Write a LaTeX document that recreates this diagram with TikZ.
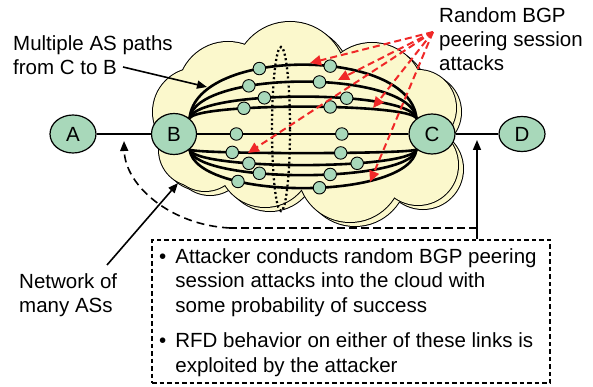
\documentclass[tikz,border=0pt]{standalone}
\usepackage{fontspec}
\setmainfont{Liberation Sans}
\usetikzlibrary{arrows.meta,shapes.geometric}
\definecolor{cloudy}{HTML}{FBF8CC}
\definecolor{asgreen}{HTML}{A8D8BA}
\definecolor{atkred}{HTML}{F02828}
\newcommand{\cloudbumps}[1]{%
  \foreach \cx/\cy/\rr in {228/92/50,197/112/44,290/78/56,372/95/52,418/108/38,418/165/40,350/170/52,265/160/47,205/155/36,195/150/36}{\path[#1] (\cx,\cy) circle[radius=\rr pt];}%
  \path[#1] (305,125) ellipse[x radius=120pt, y radius=60pt];}
\begin{document}
\begin{tikzpicture}[x=1pt,y=-1pt,
  font=\fontsize{20.5}{24}\selectfont,
  asnode/.style={ellipse, draw=black, line width=1.2pt, fill=asgreen, inner sep=0pt},
  dot/.style={circle, draw=black, line width=0.9pt, fill=asgreen, minimum size=12.5pt, inner sep=0pt},
  aspath/.style={line width=2.6pt},
  link/.style={line width=1.5pt},
  atk/.style={atkred, line width=2pt, dash pattern=on 7pt off 4pt, -{Triangle[length=11pt,width=10pt]}},
  pointer/.style={line width=1.6pt, -{Triangle[length=10pt,width=8pt]}},
  lbl/.style={inner sep=0pt, align=left, anchor=north west}]
\useasboundingbox (0,0) rectangle (593,387);
% cloud with shadow
\begin{scope}[shift={(5,4)}]
  \cloudbumps{draw=black, line width=2pt}
  \cloudbumps{fill=cloudy}
\end{scope}
\cloudbumps{draw=black, line width=2pt}
\cloudbumps{fill=cloudy}
% AS nodes
\node[asnode, minimum width=46pt, minimum height=38pt] (A) at (73,134) {A};
\node[asnode, minimum width=45pt, minimum height=41pt] (B) at (174,134) {B};
\node[asnode, minimum width=46pt, minimum height=40pt] (C) at (432,134) {C};
\node[asnode, minimum width=46pt, minimum height=35pt] (D) at (522,134) {D};
\draw[link] (A) -- (B);
\draw[link] (C) -- (D);
% AS paths
\draw[aspath] (B.45) .. controls (196,46.7) and (410,46.7) .. (C.135) node[dot,pos=.365] (d1) {} node[dot,pos=.583] (d2) {};
\draw[aspath] (B.45) .. controls (196,69.3) and (410,69.3) .. (C.135) node[dot,pos=.33] (d3) {} node[dot,pos=.55] (d4) {};
\draw[aspath] (B.45) .. controls (196,89.3) and (410,89.3) .. (C.135) node[dot,pos=.381] (d5) {} node[dot,pos=.635] (d6) {};
\draw[aspath] (B.45) .. controls (196,102.7) and (410,102.7) .. (C.135) node[dot,pos=.313] (d7) {} node[dot,pos=.583] (d8) {};
\draw[aspath] (B.east) -- (C.west) node[dot,pos=.186] (d9) {} node[dot,pos=.685] (d10) {};
\draw[aspath] (B.-45) .. controls (196,154.3) and (410,154.3) .. (C.-135) node[dot,pos=.271] (d11) {} node[dot,pos=.616] (d12) {};
\draw[aspath] (B.-45) .. controls (196,170.3) and (410,170.3) .. (C.-135) node[dot,pos=.33] (d13) {} node[dot,pos=.67] (d14) {};
\draw[aspath] (B.-45) .. controls (196,183.7) and (410,183.7) .. (C.-135) node[dot,pos=.365] (d15) {} node[dot,pos=.583] (d16) {};
\draw[aspath] (B.-45) .. controls (196,201) and (410,201) .. (C.-135) node[dot,pos=.292] (d17) {} node[dot,pos=.55] (d18) {};
% dotted group
\draw[line width=2.3pt, dash pattern=on 2pt off 2.6pt] (281,129) ellipse[x radius=9pt, y radius=82pt];
% random attacks
\coordinate (src) at (433,32);
\coordinate (r1) at (310,63);
\coordinate (r2) at (338,80);
\coordinate (r3) at (373,108);
\coordinate (r4) at (248,153);
\coordinate (r5) at (370,182);
\foreach \t in {r1,r2,r3,r4,r5} \draw[atk] (src) -- (\t);
% labels
\node[lbl] (lpaths) at (13,35) {Multiple AS paths\\from C to B};
\node[lbl] (latk) at (439,7) {Random BGP\\peering session\\attacks};
\node[lbl] (lnet) at (19,273) {Network of\\many ASs};
\coordinate (pstart) at (123,67);
\coordinate (ptip) at (207,87);
\draw[pointer] (pstart) -- (ptip);
\coordinate (nstart) at (107,265);
\coordinate (ntip) at (178,183);
\draw[pointer] (nstart) -- (ntip);
% explanation box
\node[draw, line width=1.5pt, dash pattern=on 4.5pt off 3pt, minimum width=398pt, minimum height=143pt, inner sep=0pt] (box) at (351,311.5) {};
\node[inner sep=0pt, anchor=north west, font=\fontsize{20.5}{24.5}\selectfont] (btxt) at (159,246) {\begin{tabular}{@{}l@{\hspace{9pt}}l@{}}
\textbullet&Attacker conducts random BGP peering\\
&session attacks into the cloud with\\
&some probability of success\\[11pt]
\textbullet&RFD behavior on either of these links is\\
&exploited by the attacker
\end{tabular}};
% exploitation arrows
\coordinate (cdtip) at (477,140);
\draw[pointer] (cdtip |- box.north) -- (cdtip);
\coordinate (j) at (477,228);
\coordinate (k) at (230,228);
\coordinate (abtip) at (124,141);
\draw[line width=2.8pt, dash pattern=on 8pt off 4pt] (j) -- (k);
\draw[line width=1.6pt, dash pattern=on 8pt off 5pt, -{Triangle[length=10pt,width=8pt]}] (k) .. controls (170,225) and (125,185) .. (abtip);
\end{tikzpicture}
\end{document}
